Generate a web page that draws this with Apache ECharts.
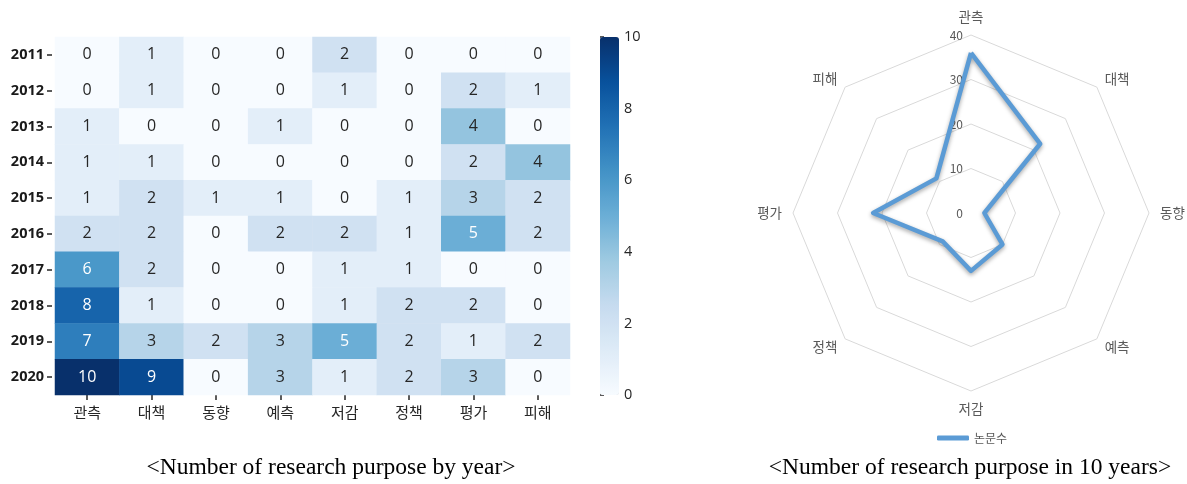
<!DOCTYPE html>
<html>
<head>
<meta charset="utf-8">
<script src="https://cdn.jsdelivr.net/npm/echarts@6/dist/echarts.min.js"></script>
<style>
  html, body { margin: 0; padding: 0; background: #fff; }
  #chart { width: 1187px; height: 484px; }
</style>
</head>
<body>
<div id="chart"></div>
<script>
// categories and years
const purposes = ['관측', '대책', '동향', '예측', '저감', '정책', '평가', '피해']
const years = ['2011', '2012', '2013', '2014', '2015', '2016', '2017', '2018', '2019', '2020']

// counts per year (rows) x purpose (cols)
const counts = [
    [0, 1, 0, 0, 2, 0, 0, 0],
    [0, 1, 0, 0, 1, 0, 2, 1],
    [1, 0, 0, 1, 0, 0, 4, 0],
    [1, 1, 0, 0, 0, 0, 2, 4],
    [1, 2, 1, 1, 0, 1, 3, 2],
    [2, 2, 0, 2, 2, 1, 5, 2],
    [6, 2, 0, 0, 1, 1, 0, 0],
    [8, 1, 0, 0, 1, 2, 2, 0],
    [7, 3, 2, 3, 5, 2, 1, 2],
    [10, 9, 0, 3, 1, 2, 3, 0]
]

// totals over 10 years, radar order (clockwise from top)
const radarOrder = ['관측', '대책', '동향', '예측', '저감', '정책', '평가', '피해']
const totals = [36, 22, 3, 10, 13, 9, 22, 11]

const colorbarTicks = [0, 2, 4, 6, 8, 10]
const blues = ['#f7fbff', '#deebf7', '#c6dbef', '#9ecae1', '#6baed6', '#4292c6', '#2171b5', '#08519c', '#08306b']

const krFont = '"Noto Sans CJK KR", "Noto Sans", sans-serif'

const heatData = []
counts.forEach((row, yi) => {
    row.forEach((v, xi) => {
        heatData.push({
            value: [xi, yi, v],
            label: { color: v >= 5 ? '#ffffff' : '#262626' }
        })
    })
})

// echarts lays radar axes counter-clockwise, so keep the first and flip the rest
const ccw = arr => [arr[0]].concat(arr.slice(1).reverse())
const radarNames = ccw(radarOrder)
const radarValues = ccw(totals)

const chart = echarts.init(document.getElementById('chart'))

const options = {
    animation: false,
    textStyle: { fontFamily: krFont },
    grid: [
        { left: 55, top: 37, width: 515, height: 358 },
        { left: 600, top: 37, width: 19, height: 358 }
    ],
    xAxis: [
        {
            type: 'category',
            data: purposes,
            gridIndex: 0,
            axisLine: { show: false },
            axisTick: { show: true, alignWithLabel: true, length: 5, lineStyle: { color: '#262626', width: 1.5 } },
            axisLabel: { color: '#262626', fontSize: 15, margin: 10, fontFamily: krFont },
            splitLine: { show: false }
        },
        { type: 'value', gridIndex: 1, show: false, min: 0, max: 1 }
    ],
    yAxis: [
        {
            type: 'category',
            data: years,
            gridIndex: 0,
            inverse: true,
            offset: 3,
            axisLine: { show: false },
            axisTick: { show: true, alignWithLabel: true, length: 5, lineStyle: { color: '#262626', width: 1.5 } },
            axisLabel: { color: '#1a1a1a', fontSize: 14.5, fontWeight: 'bold', margin: 8, fontFamily: '"Open Sans", sans-serif' },
            splitLine: { show: false }
        },
        {
            type: 'value',
            gridIndex: 1,
            position: 'right',
            min: 0,
            max: 10,
            interval: 2,
            axisLine: { show: false },
            axisTick: { show: true, length: 4, lineStyle: { color: '#262626', width: 1.5 } },
            axisLabel: { color: '#262626', fontSize: 14.5, margin: 5, fontFamily: '"Open Sans", sans-serif',
                formatter: v => colorbarTicks.includes(v) ? String(v) : '' },
            splitLine: { show: false }
        }
    ],
    visualMap: {
        type: 'continuous',
        seriesIndex: 0,
        min: 0,
        max: 10,
        calculable: false,
        hoverLink: false,
        orient: 'vertical',
        left: 600,
        top: 37,
        padding: 0,
        itemWidth: 19,
        itemHeight: 358,
        text: null,
        showLabel: false,
        indicatorSize: 0,
        inRange: { color: blues }
    },
    radar: {
        center: [971, 213],
        radius: 178,
        startAngle: 90,
        splitNumber: 4,
        shape: 'polygon',
        nameGap: 11,
        axisName: { color: '#595959', fontSize: 13.5, fontFamily: krFont },
        axisLine: { show: false },
        axisTick: { show: false },
        splitLine: { lineStyle: { color: '#d9d9d9', width: 1 } },
        splitArea: { show: false },
        indicator: radarNames.map((name, i) => i === 0
            ? { name, min: 0, max: 40, axisLabel: { show: true, color: '#595959', fontSize: 12, margin: 8 } }
            : { name, min: 0, max: 40 })
    },
    legend: {
        data: ['논문수'],
        left: 937,
        top: 432,
        icon: 'roundRect',
        itemWidth: 32,
        itemHeight: 5,
        itemGap: 4,
        padding: 0,
        textStyle: { color: '#595959', fontSize: 12, fontFamily: krFont }
    },
    graphic: [
        {
            type: 'text', x: 331, y: 468,
            style: { text: '<Number of research purpose by year>', font: '23.5px "Liberation Serif", "Times New Roman", serif',
                fill: '#000', align: 'center', verticalAlign: 'middle' }
        },
        {
            type: 'text', x: 970, y: 468,
            style: { text: '<Number of research purpose in 10 years>', font: '23.5px "Liberation Serif", "Times New Roman", serif',
                fill: '#000', align: 'center', verticalAlign: 'middle' }
        }
    ],
    series: [
        {
            type: 'heatmap',
            xAxisIndex: 0,
            yAxisIndex: 0,
            data: heatData,
            label: { show: true, fontSize: 16, fontFamily: '"Open Sans", sans-serif' },
            itemStyle: { borderWidth: 0 }
        },
        {
            name: '논문수',
            type: 'radar',
            symbol: 'none',
            lineStyle: { color: '#5b9bd5', width: 4.5, shadowColor: 'rgba(0,0,0,0.35)', shadowBlur: 4, shadowOffsetY: 2 },
            itemStyle: { color: '#5b9bd5' },
            data: [{ value: radarValues, name: '논문수' }]
        }
    ]
}

chart.setOption(options)
</script>
</body>
</html>
